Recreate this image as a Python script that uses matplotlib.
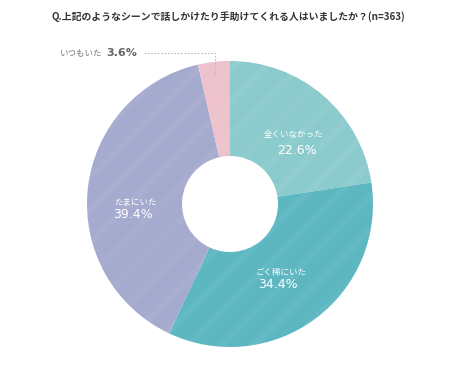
import matplotlib
matplotlib.use("Agg")
import matplotlib.pyplot as plt

plt.rcParams['font.family'] = ['Noto Sans CJK JP', 'DejaVu Sans']
plt.rcParams['hatch.linewidth'] = 5.0

title = "Q.上記のようなシーンで話しかけたり手助けてくれる人はいましたか？(n=363)"
categories = ["全くいなかった", "ごく稀にいた", "たまにいた", "いつもいた"]
values = [22.6, 34.4, 39.4, 3.6]
colors = ["#8ccbcd", "#5cb7c1", "#a5aacf", "#eec2cc"]

W, H = 474, 368
fig = plt.figure(figsize=(W / 100, H / 100), dpi=100)
ax = fig.add_axes([0, 0, 1, 1])
ax.set_xlim(0, W)
ax.set_ylim(0, H)
ax.set_aspect('equal')
ax.axis('off')

cx, cy, R = 230, H - 204, 143
hole = 48 / 143

wedges, _ = ax.pie(values, colors=colors, startangle=90, counterclock=False,
                   center=(cx, cy), radius=R,
                   wedgeprops=dict(width=R * (1 - hole), linewidth=0))
# subtle diagonal stripes
ov, _ = ax.pie(values, colors=['none'] * 4, startangle=90, counterclock=False,
               center=(cx, cy), radius=R,
               wedgeprops=dict(width=R * (1 - hole), linewidth=0,
                               edgecolor=(1, 1, 1, 0.05), hatch='/'))
ax.set_xlim(0, W)
ax.set_ylim(0, H)

fig.text(228 / W, 1 - 17 / H, title, ha='center', va='center', fontsize=7.1,
         fontweight='bold', color='#333333')

# inner labels: (label x, label y, pct x, pct y)
inner = [(293, 135, 297, 151), (281, 272, 278, 284), (135, 202, 133, 215)]
for (x1, y1, x2, y2), cat, v in zip(inner, categories[:3], values[:3]):
    ax.text(x1, H - y1, cat, ha='center', va='center', fontsize=6.1, color='white')
    ax.text(x2, H - y2, f"{v}%", ha='center', va='center', fontsize=9,
            color='white', family='DejaVu Sans')

# outer label for small slice
ax.text(60, H - 53, categories[3], ha='left', va='center', fontsize=6.1, color='#777777')
ax.text(106, H - 53, f"{values[3]}%", ha='left', va='center', fontsize=8,
        fontweight='bold', color='#666666', family='DejaVu Sans')
ax.plot([144, 215, 215], [H - 53, H - 53, H - 74], color='#bbbbbb', lw=0.8,
        linestyle=(0, (1.5, 1.5)))

fig.savefig("out.png", dpi=100, facecolor='white')
